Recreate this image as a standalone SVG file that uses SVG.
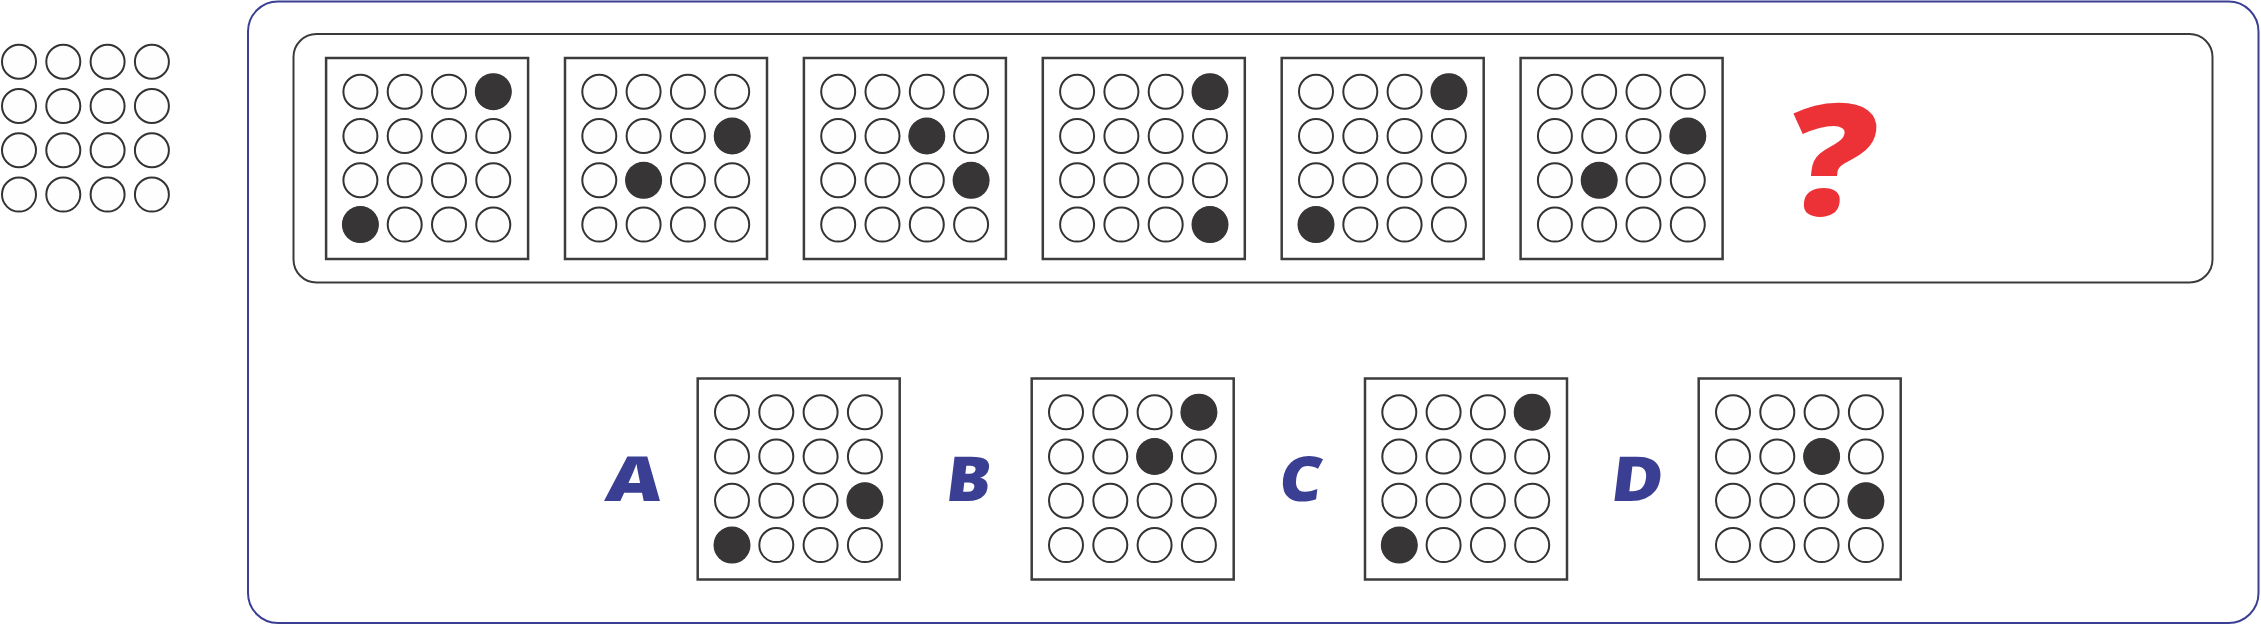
<svg xmlns="http://www.w3.org/2000/svg" xmlns:xlink="http://www.w3.org/1999/xlink" width="2261" height="625" viewBox="0 0 2261 625">
<style>
.c{fill:#fefefe;stroke:#333;stroke-width:2}
.f{fill:#383536}
.box{fill:#fff;stroke:#3c3c3c;stroke-width:2.5}
.lbl{font-family:"Open Sans","DejaVu Sans",sans-serif;font-weight:800;fill:#3b3f94;font-size:62px}
.q{font-family:"Open Sans","DejaVu Sans",sans-serif;font-weight:800;fill:#ec3237;font-size:155px}
</style>
<defs>
<g id="dots">
<circle class="c" cx="34.3" cy="33.7" r="17"/><circle class="c" cx="78.6" cy="33.7" r="17"/><circle class="c" cx="122.9" cy="33.7" r="17"/><circle class="c" cx="167.2" cy="33.7" r="17"/>
<circle class="c" cx="34.3" cy="78" r="17"/><circle class="c" cx="78.6" cy="78" r="17"/><circle class="c" cx="122.9" cy="78" r="17"/><circle class="c" cx="167.2" cy="78" r="17"/>
<circle class="c" cx="34.3" cy="122.3" r="17"/><circle class="c" cx="78.6" cy="122.3" r="17"/><circle class="c" cx="122.9" cy="122.3" r="17"/><circle class="c" cx="167.2" cy="122.3" r="17"/>
<circle class="c" cx="34.3" cy="166.6" r="17"/><circle class="c" cx="78.6" cy="166.6" r="17"/><circle class="c" cx="122.9" cy="166.6" r="17"/><circle class="c" cx="167.2" cy="166.6" r="17"/>
</g>
<g id="panel">
<rect class="box" x="0" y="0" width="202" height="201"/>
<use xlink:href="#dots"/>
</g>
</defs>
<rect width="2261" height="625" fill="#fff"/>

<g id="legend-grid" transform="translate(-15.3,28)">
<use xlink:href="#dots"/>
</g>

<g id="outer-frame">
<rect x="248" y="1.5" width="2010.5" height="621.5" rx="30" fill="none" stroke="#3b3f94" stroke-width="2"/>
</g>
<g id="sequence-frame">
<rect x="293.5" y="34" width="1919" height="248.5" rx="23" fill="none" stroke="#3a3a3a" stroke-width="2"/>
</g>

<g id="seq1" transform="translate(326.1,58)"><use xlink:href="#panel"/><circle class="f" cx="167.2" cy="33.7" r="18.5"/><circle class="f" cx="34.3" cy="166.6" r="18.5"/></g>
<g id="seq2" transform="translate(565,58)"><use xlink:href="#panel"/><circle class="f" cx="167.2" cy="78" r="18.5"/><circle class="f" cx="78.6" cy="122.3" r="18.5"/></g>
<g id="seq3" transform="translate(803.9,58)"><use xlink:href="#panel"/><circle class="f" cx="122.9" cy="78" r="18.5"/><circle class="f" cx="167.2" cy="122.3" r="18.5"/></g>
<g id="seq4" transform="translate(1042.8,58)"><use xlink:href="#panel"/><circle class="f" cx="167.2" cy="33.7" r="18.5"/><circle class="f" cx="167.2" cy="166.6" r="18.5"/></g>
<g id="seq5" transform="translate(1281.7,58)"><use xlink:href="#panel"/><circle class="f" cx="167.2" cy="33.7" r="18.5"/><circle class="f" cx="34.3" cy="166.6" r="18.5"/></g>
<g id="seq6" transform="translate(1520.6,58)"><use xlink:href="#panel"/><circle class="f" cx="167.2" cy="78" r="18.5"/><circle class="f" cx="78.6" cy="122.3" r="18.5"/></g>
<g id="question" transform="translate(1781,215) skewX(-7)"><text class="q" x="0" y="0" textLength="88" lengthAdjust="spacingAndGlyphs">?</text></g>

<g id="optA">
<g transform="translate(604,500.5) skewX(-7)"><text class="lbl" x="0" y="0" textLength="56" lengthAdjust="spacingAndGlyphs">A</text></g>
<g transform="translate(697.7,378.5)"><use xlink:href="#panel"/><circle class="f" cx="167.2" cy="122.3" r="18.5"/><circle class="f" cx="34.3" cy="166.6" r="18.5"/></g>
</g>
<g id="optB">
<g transform="translate(944,500.5) skewX(-7)"><text class="lbl" x="0" y="0" textLength="45" lengthAdjust="spacingAndGlyphs">B</text></g>
<g transform="translate(1031.7,378.5)"><use xlink:href="#panel"/><circle class="f" cx="167.2" cy="33.7" r="18.5"/><circle class="f" cx="122.9" cy="78" r="18.5"/></g>
</g>
<g id="optC">
<g transform="translate(1277,500.5) skewX(-7)"><text class="lbl" x="0" y="0" textLength="43" lengthAdjust="spacingAndGlyphs">C</text></g>
<g transform="translate(1365,378.5)"><use xlink:href="#panel"/><circle class="f" cx="167.2" cy="33.7" r="18.5"/><circle class="f" cx="34.3" cy="166.6" r="18.5"/></g>
</g>
<g id="optD">
<g transform="translate(1609,500.5) skewX(-7)"><text class="lbl" x="0" y="0" textLength="52" lengthAdjust="spacingAndGlyphs">D</text></g>
<g transform="translate(1698.7,378.5)"><use xlink:href="#panel"/><circle class="f" cx="122.9" cy="78" r="18.5"/><circle class="f" cx="167.2" cy="122.3" r="18.5"/></g>
</g>
<g id="connectors"/>
</svg>
